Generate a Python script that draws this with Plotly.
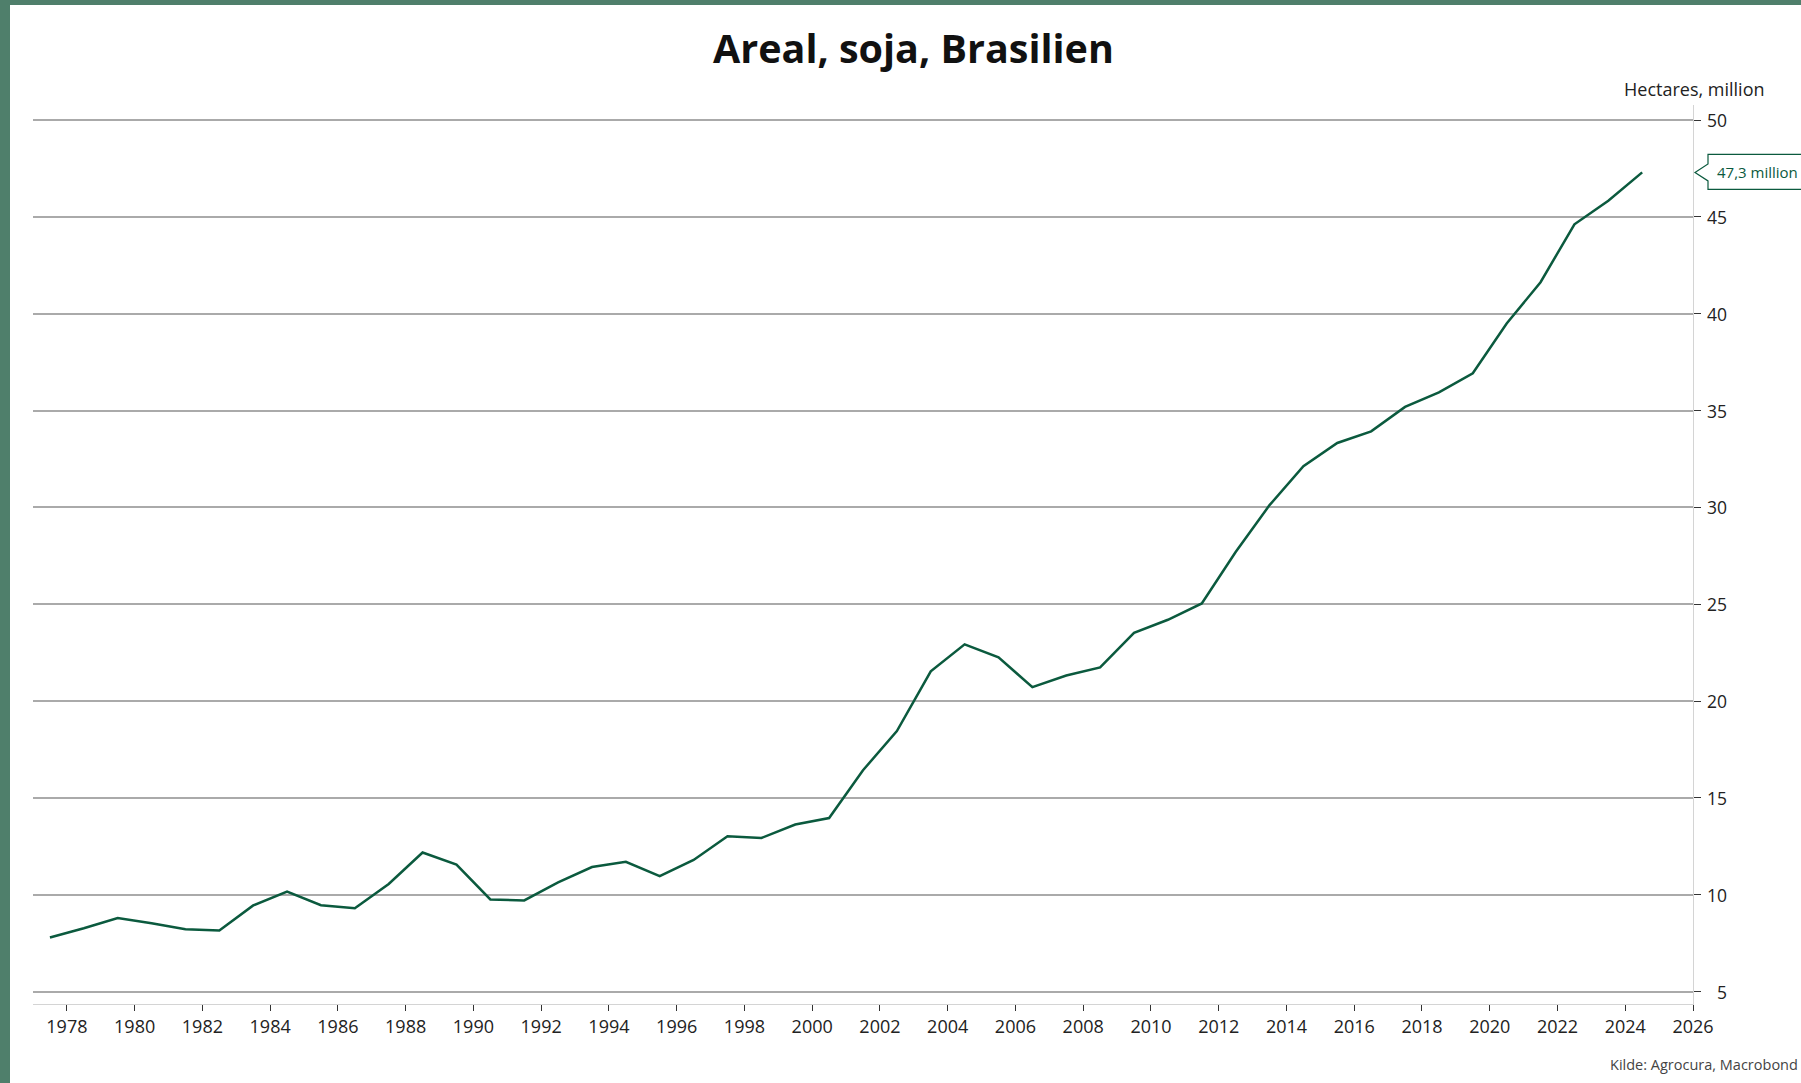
import plotly.graph_objects as go

# ---- data ----
years = list(range(1977, 2025))
area_mha = [7.79, 8.27, 8.8, 8.53, 8.22, 8.15, 9.45, 10.16, 9.46, 9.3,
            10.56, 12.18, 11.56, 9.76, 9.71, 10.64, 11.43, 11.7, 10.96, 11.8,
            13.02, 12.93, 13.63, 13.96, 16.43, 18.45, 21.54, 22.93, 22.26, 20.72,
            21.32, 21.74, 23.52, 24.2, 25.04, 27.7, 30.12, 32.13, 33.33, 33.93,
            35.19, 35.94, 36.93, 39.5, 41.63, 44.62, 45.84, 47.3]
x_ticks = list(range(1978, 2027, 2))
y_ticks = [5, 10, 15, 20, 25, 30, 35, 40, 45, 50]
title_text = "Areal, soja, Brasilien"
unit_text = "Hectares, million"
source_text = "Kilde: Agrocura, Macrobond"

# ---- style ----
LINE = "#0b5a3e"
GRID = "#aaaaaa"
BORDER = "#4f7f6b"
FONT = "Open Sans"
W, H = 1801, 1083
ML, MR, MT, MB = 33, 108, 105, 79
PW = W - ML - MR
PH = H - MT - MB
YR = [4.36, 50.78]


def px_x(px):
    return (px - ML) / PW


def px_y(py):
    return (H - MB - py) / PH


x_mid = [y + 0.5 for y in years]

fig = go.Figure()
fig.add_trace(go.Scatter(x=x_mid, y=area_mha, mode="lines",
                         line=dict(color=LINE, width=2.5), hoverinfo="skip",
                         showlegend=False))

annotations = []
# title
annotations.append(dict(text="<b>" + title_text + "</b>", xref="paper", yref="paper",
                        x=px_x(913), y=px_y(48), xanchor="center", yanchor="middle",
                        showarrow=False, font=dict(family=FONT, size=39.5, color="#111111")))
# unit label
annotations.append(dict(text=unit_text, xref="paper", yref="paper",
                        x=px_x(1694), y=px_y(89), xanchor="center", yanchor="middle",
                        showarrow=False, font=dict(family=FONT, size=18, color="#222222")))
# source
annotations.append(dict(text=source_text, xref="paper", yref="paper",
                        x=px_x(1800), y=px_y(1064), xanchor="right", yanchor="middle",
                        showarrow=False, font=dict(family=FONT, size=14.5, color="#444444")))
# y tick labels (right aligned)
for v in y_ticks:
    annotations.append(dict(text=str(v), xref="paper", yref="y", x=px_x(1729), y=v,
                            xanchor="right", yanchor="middle", showarrow=False,
                            font=dict(family=FONT, size=17.5, color="#222222")))
# last value label
last_val = area_mha[-1]
last_y_paper = (last_val - YR[0]) / (YR[1] - YR[0])
annotations.append(dict(text=f"{last_val:.1f}".replace(".", ",") + " million",
                        xref="paper", yref="paper", x=px_x(1715), y=last_y_paper,
                        xanchor="left", yanchor="middle", showarrow=False,
                        font=dict(family=FONT, size=15, color=LINE)))

shapes = [
    # white page inside the green frame
    dict(type="rect", xref="paper", yref="paper", layer="below",
         x0=px_x(10), x1=px_x(W + 20), y0=px_y(H + 20), y1=px_y(5),
         fillcolor="white", line=dict(width=0)),
    # callout box for last value
    dict(type="path", xref="paper", yref="paper", layer="above",
         xsizemode="pixel", ysizemode="pixel",
         xanchor=px_x(1693), yanchor=last_y_paper,
         path="M 2,0 L 15,8.5 L 15,18 L 130,18 L 130,-17 L 15,-17 L 15,-8.5 Z",
         fillcolor="white", line=dict(color=LINE, width=1.2)),
]

fig.update_layout(
    width=W, height=H,
    margin=dict(l=ML, r=MR, t=MT, b=MB, pad=0),
    paper_bgcolor=BORDER, plot_bgcolor="rgba(0,0,0,0)",
    font=dict(family=FONT, size=17, color="#222222"),
    showlegend=False,
    annotations=annotations,
    shapes=shapes,
    xaxis=dict(range=[1977, 2026], tickmode="array", tickvals=x_ticks,
               ticktext=[str(t) for t in x_ticks], ticks="outside", ticklen=6,
               tickwidth=1.3, tickcolor="#333333", showgrid=False, zeroline=False,
               showline=True, linecolor="#d4d4d4", linewidth=1.3,
               tickfont=dict(family=FONT, size=18, color="#222222")),
    yaxis=dict(range=YR, side="right", tickmode="array", tickvals=y_ticks,
               showticklabels=False, ticks="outside", ticklen=7, tickwidth=1.3,
               tickcolor="#333333", showgrid=True, gridcolor=GRID, gridwidth=1.5,
               zeroline=False, showline=True, linecolor="#d4d4d4", linewidth=1.3),
)

fig.write_html("out.html", config={"displayModeBar": False},
               post_script="document.body.style.margin='0';"
                           "document.body.style.overflow='hidden';")
